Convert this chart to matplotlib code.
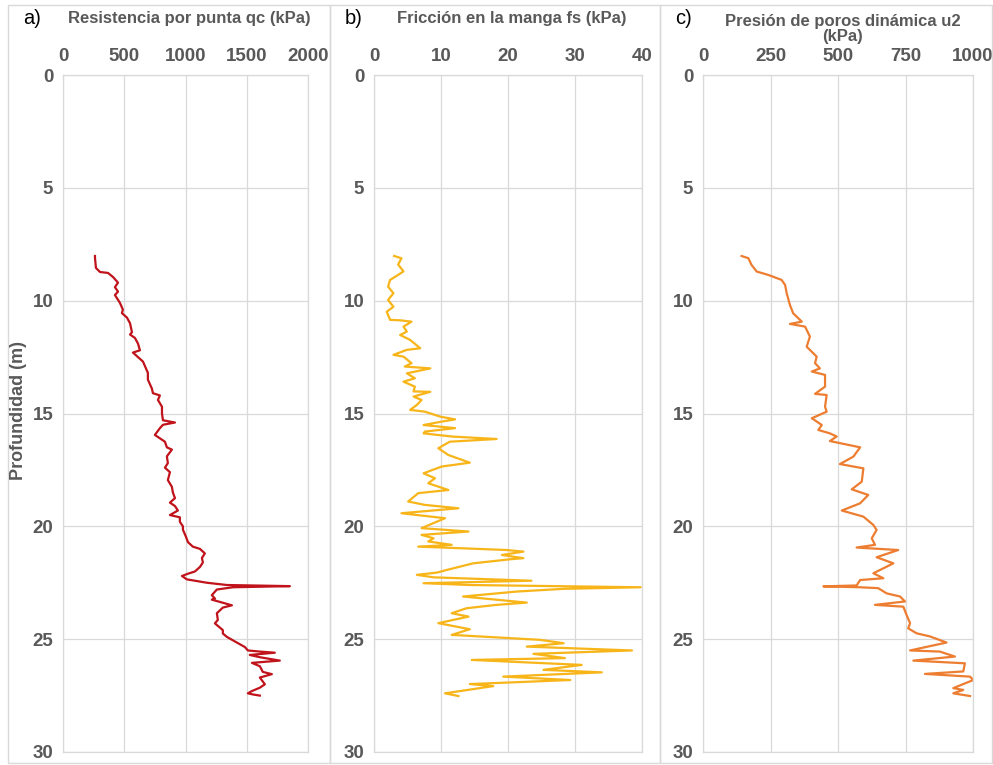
import matplotlib
matplotlib.use("Agg")
import matplotlib.pyplot as plt
from matplotlib.patches import Rectangle

plt.rcParams['font.family'] = ['Liberation Sans', 'DejaVu Sans']

# --- CPT sounding: tip resistance qc (kPa) ---
depth_qc = [8.02, 8.1, 8.55, 8.73, 8.77, 8.95, 9.2, 9.4, 9.6, 9.75, 10.1, 10.4, 10.55,
            10.75, 11.0, 11.4, 11.5, 11.65, 11.9, 12.2, 12.3, 12.5, 12.7, 12.9, 13.2,
            13.5, 13.9, 14.1, 14.2, 14.4, 14.7, 15.0, 15.3, 15.4, 15.5, 15.65, 15.95,
            16.1, 16.25, 16.5, 16.6, 16.9, 17.2, 17.4, 17.6, 17.95, 18.25, 18.5, 18.75,
            18.95, 19.1, 19.3, 19.5, 19.6, 19.8, 20.0, 20.15, 20.45, 20.7, 20.9, 21.0,
            21.2, 21.4, 21.6, 21.8, 22.0, 22.1, 22.2, 22.35, 22.5, 22.6, 22.65, 22.7,
            22.8, 23.05, 23.2, 23.25, 23.35, 23.5, 23.6, 23.85, 24.15, 24.3, 24.6,
            24.75, 24.9, 25.1, 25.35, 25.5, 25.55, 25.6, 25.7, 25.8, 25.95, 26.05,
            26.2, 26.45, 26.55, 26.7, 27.0, 27.15, 27.3, 27.4, 27.45, 27.5]
qc = [261, 261, 269, 302, 367, 408, 449, 424, 449, 424, 465, 489, 481,
      522, 547, 563, 547, 587, 612, 628, 571, 612, 653, 669, 693,
      693, 726, 734, 791, 775, 808, 808, 816, 914, 816, 791, 750,
      791, 832, 848, 889, 848, 856, 832, 873, 856, 889, 897, 914,
      873, 914, 938, 873, 954, 954, 979, 979, 1003, 1020, 1060, 1118,
      1158, 1134, 1142, 1118, 1077, 1020, 971, 1011, 1175, 1338, 1852, 1387,
      1256, 1215, 1240, 1215, 1281, 1379, 1305, 1256, 1264, 1240, 1305,
      1305, 1338, 1403, 1485, 1509, 1607, 1729, 1525, 1607, 1770, 1542,
      1607, 1631, 1705, 1607, 1648, 1607, 1542, 1509, 1550, 1607]

# --- sleeve friction fs (kPa) ---
depth_fs = [8.02, 8.12, 8.4, 8.7, 8.86, 9.08, 9.38, 9.67, 9.97, 10.27, 10.49, 10.85,
            10.87, 10.93, 11.15, 11.37, 11.52, 11.74, 12.11, 12.18, 12.4, 12.48, 12.77,
            12.92, 13.0, 13.22, 13.44, 13.59, 13.81, 14.02, 14.04, 14.25, 14.4, 14.62,
            14.84, 14.92, 15.14, 15.26, 15.36, 15.51, 15.65, 15.8, 15.88, 16.02, 16.13,
            16.25, 16.54, 16.84, 17.18, 17.35, 17.65, 17.87, 18.09, 18.39, 18.53, 18.9,
            19.05, 19.2, 19.42, 19.64, 20.08, 20.23, 20.38, 20.53, 20.67, 20.82, 20.9,
            20.94, 21.05, 21.12, 21.27, 21.41, 21.46, 21.64, 21.93, 22.05, 22.15, 22.26,
            22.41, 22.52, 22.6, 22.7, 22.77, 22.89, 23.11, 23.38, 23.48, 23.63, 23.85,
            24.0, 24.29, 24.56, 24.81, 25.03, 25.18, 25.33, 25.5, 25.65, 25.84, 25.92,
            26.14, 26.36, 26.47, 26.66, 26.81, 26.99, 27.08, 27.4, 27.52]
fs = [3.0, 4.1, 3.6, 4.4, 3.6, 2.4, 2.1, 2.9, 2.1, 2.9, 1.9, 2.4,
      3.9, 5.6, 4.4, 4.9, 3.9, 5.4, 6.9, 4.9, 2.9, 4.4, 5.6,
      4.6, 8.4, 4.9, 6.1, 4.4, 6.1, 5.9, 8.4, 5.9, 7.1, 6.4,
      5.4, 7.6, 9.9, 12.1, 10.1, 7.4, 12.1, 7.6, 7.4, 11.6, 18.3,
      11.3, 9.6, 11.1, 14.3, 10.1, 7.4, 9.1, 8.1, 11.1, 6.6, 5.1,
      7.6, 12.6, 4.1, 10.6, 7.1, 14.1, 7.1, 8.9, 8.1, 11.6, 6.6,
      10.3, 19.8, 22.3, 19.1, 22.3, 20.3, 14.8, 10.9, 9.4, 6.4, 8.9,
      23.5, 7.4, 14.3, 39.8, 28.3, 21.3, 13.3, 22.8, 18.3, 13.8, 11.6,
      14.1, 9.6, 14.3, 11.6, 24.8, 28.3, 22.8, 38.5, 23.8, 28.5, 14.6,
      31.0, 25.3, 34.0, 19.3, 29.3, 14.3, 17.8, 10.6, 12.6]

# --- dynamic pore pressure u2 (kPa) ---
depth_u2 = [8.02, 8.12, 8.42, 8.71, 8.86, 9.08, 9.3, 9.67, 10.19, 10.56, 10.93, 11.03,
            11.15, 11.59, 12.04, 12.48, 12.77, 13.0, 13.14, 13.29, 13.81, 14.13, 14.18,
            14.7, 14.92, 15.21, 15.51, 15.73, 15.88, 16.02, 16.22, 16.5, 16.91, 17.24,
            17.43, 18.02, 18.36, 18.61, 18.98, 19.3, 19.57, 19.94, 20.16, 20.53, 20.82,
            20.94, 21.05, 21.37, 21.64, 22.08, 22.3, 22.38, 22.62, 22.66, 22.7, 22.74,
            22.97, 23.11, 23.33, 23.48, 23.56, 23.93, 24.29, 24.52, 24.74, 24.88, 25.15,
            25.5, 25.55, 25.77, 25.95, 26.07, 26.43, 26.54, 26.66, 26.81, 27.17, 27.25,
            27.4, 27.52]
u2 = [143, 168, 180, 199, 242, 291, 304, 310, 322, 334, 366, 322,
      378, 396, 384, 421, 415, 433, 403, 452, 452, 415, 458,
      452, 458, 403, 440, 427, 470, 495, 470, 582, 557, 507,
      594, 588, 551, 612, 582, 514, 594, 631, 643, 625, 637,
      569, 723, 643, 705, 631, 668, 582, 569, 446, 582, 649,
      680, 730, 748, 637, 742, 754, 767, 760, 791, 841, 902,
      767, 877, 933, 779, 970, 964, 822, 989, 1001, 927, 964,
      927, 989]

panels = [
    dict(tag="a)", title="Resistencia por punta qc (kPa)", x=qc, y=depth_qc,
         xmax=2000, xticks=[0, 500, 1000, 1500, 2000], color="#C0131B",
         rect=[63 / 993, 13 / 765, 245 / 993, 677 / 765], box=(8, 330)),
    dict(tag="b)", title="Fricción en la manga fs (kPa)", x=fs, y=depth_fs,
         xmax=40, xticks=[0, 10, 20, 30, 40], color="#F7B519",
         rect=[374 / 993, 13 / 765, 268 / 993, 677 / 765], box=(330, 660)),
    dict(tag="c)", title="Presión de poros dinámica u2\n(kPa)", x=u2, y=depth_u2,
         xmax=1000, xticks=[0, 250, 500, 750, 1000], color="#ED7D31",
         rect=[703 / 993, 13 / 765, 270 / 993, 677 / 765], box=(660, 992)),
]

grey_txt = "#595959"
grid_c = "#D9D9D9"

fig = plt.figure(figsize=(9.93, 7.65), dpi=100)

for p in panels:
    x0, x1 = p["box"]
    fig.patches.append(Rectangle((x0 / 993, 2 / 765), (x1 - x0) / 993, 758 / 765,
                                 transform=fig.transFigure, fill=False,
                                 edgecolor=grid_c, linewidth=1.0, zorder=0))
    ax = fig.add_axes(p["rect"])
    ax.plot(p["x"], p["y"], color=p["color"], linewidth=1.6, solid_joinstyle="round")
    ax.set_xlim(0, p["xmax"])
    ax.set_ylim(30, 0)
    ax.set_xticks(p["xticks"])
    ax.set_yticks([0, 5, 10, 15, 20, 25, 30])
    ax.xaxis.tick_top()
    ax.tick_params(length=0, labelsize=13.5, labelcolor=grey_txt)
    ax.tick_params(axis="x", pad=7)
    ax.tick_params(axis="y", pad=7)
    for lab in ax.get_xticklabels() + ax.get_yticklabels():
        lab.set_fontweight("bold")
    ax.grid(True, color=grid_c, linewidth=0.9)
    ax.set_axisbelow(True)
    for s in ax.spines.values():
        s.set_color(grid_c)
        s.set_linewidth(0.9)
    cx = (p["rect"][0] + p["rect"][2] / 2)
    if "\n" in p["title"]:
        fig.text(cx + 0.005, 1 - 14 / 765, p["title"], ha="center", va="top",
                 fontsize=12, fontweight="bold", color=grey_txt, linespacing=1.0)
    else:
        fig.text(cx + 0.004, 1 - 18 / 765, p["title"], ha="center", va="center",
                 fontsize=12, fontweight="bold", color=grey_txt)
    fig.text((x0 + 15) / 993, 1 - 18 / 765, p["tag"], ha="left", va="center",
             fontsize=14.5, color="black")

fig.text(19 / 993, 1 - 410 / 765, "Profundidad (m)", rotation=90, ha="center",
         va="center", fontsize=13, fontweight="bold", color=grey_txt)

fig.savefig("out.png", dpi=100, facecolor="white")
